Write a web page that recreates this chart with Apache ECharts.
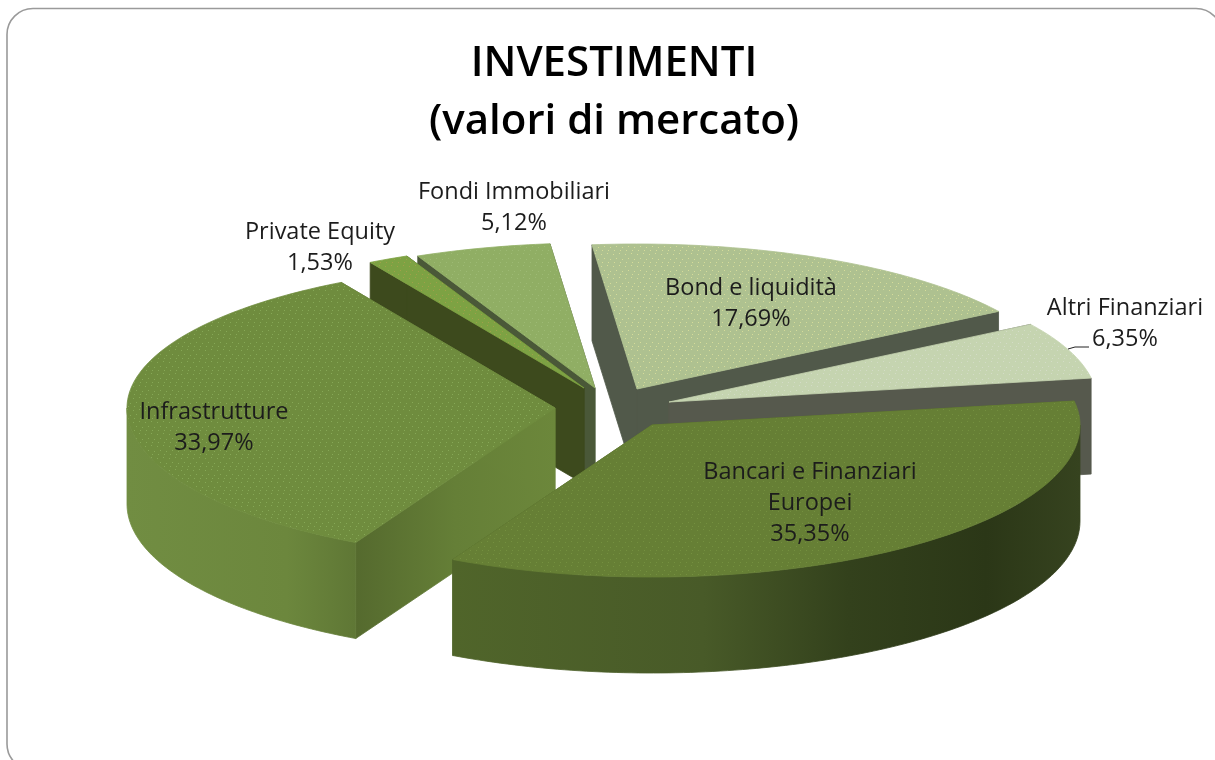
<!DOCTYPE html>
<html>
<head>
<meta charset="utf-8">
<style>html,body{margin:0;padding:0;background:#fff}#c{width:1215px;height:760px}</style>
<script src="https://cdn.jsdelivr.net/npm/echarts@6/dist/echarts.min.js"></script>
</head>
<body>
<div id="c"></div>
<script>
// ---- data ----
const categories = ['Bancari e Finanziari\nEuropei', 'Infrastrutture', 'Private Equity', 'Fondi Immobiliari', 'Bond e liquidità', 'Altri Finanziari'];
const shares = [35.35, 33.97, 1.53, 5.12, 17.69, 6.35];
const titleText = 'INVESTIMENTI\n(valori di mercato)';

// ---- layout / style ----
const centre = [617, 408], rx = 428, ryFront = 152, ryBack = 145, depth = 96, startDeg = -9.5;
const explode = [[35, 17], [-62, 0], [-33, -20], [-22, -20], [20, -19], [52, -6]];
const labelAt = [[810, 503], [214, 428], [320, 248], [514, 208], [751, 304], [1125, 324]];
const drawOrder = [3, 2, 4, 5, 1, 0];
const topColor = ['#667f35', '#6f8c3e', '#7da243', '#90ae64', '#aec190', '#c5d4b0'];
const dotColor = ['#74903f', '#86a856', '#a0a04a', '#9dba74', '#d5dc9a', '#d3dcc6'];
const faceColor = ['#4f6428',
  {type:'linear',x:0,y:0,x2:1,y2:0,colorStops:[{offset:0,color:'#556a2e'},{offset:.5,color:'#657f37'},{offset:1,color:'#6c873b'}]},
  '#3d4a1d', '#4a5838', '#51594a', '#56594d'];
const wallColor = [
  {type:'linear',x:0,y:0,x2:1,y2:0,colorStops:[{offset:0,color:'#50652a'},{offset:.4,color:'#485a28'},{offset:.63,color:'#33411c'},{offset:.85,color:'#2b3717'},{offset:1,color:'#36431f'}]},
  {type:'linear',x:0,y:0,x2:1,y2:0,colorStops:[{offset:0,color:'#718d42'},{offset:.7,color:'#6c873d'},{offset:1,color:'#5f7735'}]},
  '#3d4a1d', '#4a5838', '#51594a', '#56594d'];
const leader = [[1068, 349], [1075, 347], [1089, 347]];

function texture(base, dot) {
  const c = document.createElement('canvas');
  c.width = c.height = 12;
  const g = c.getContext('2d');
  g.fillStyle = base; g.fillRect(0, 0, 12, 12);
  g.fillStyle = dot;
  [[1,2],[7,1],[4,6],[10,7],[2,10],[8,10]].forEach(p => g.fillRect(p[0], p[1], 1, 1));
  return {image: c, repeat: 'repeat'};
}
const topFill = topColor.map((b, i) => texture(b, dotColor[i]));

const total = shares.reduce((a, b) => a + b, 0);
const bounds = [];
shares.reduce((a, v) => { const b = a + v / total * 360; bounds.push([a, b]); return b; }, startDeg);
const rad = d => d * Math.PI / 180;

function arc(ax, ay, a, b, dy) {
  const pts = [], n = Math.max(2, Math.ceil(Math.abs(b - a)));
  for (let k = 0; k <= n; k++) {
    const t = rad(a + (b - a) * k / n), s = Math.sin(t);
    pts.push([ax + rx * Math.cos(t), ay + (s > 0 ? ryFront : ryBack) * s + dy]);
  }
  return pts;
}

function renderItem(params, api) {
  const i = api.value(1);
  const [a, b] = bounds[i];
  const ax = centre[0] + explode[i][0], ay = centre[1] + explode[i][1];
  const children = [];
  const poly = (points, fill, stroke) => children.push({
    type: 'polygon', shape: {points},
    style: {fill, stroke: stroke || fill, lineWidth: .8}
  });
  // cut faces
  [a, b].forEach(d => {
    const p = arc(ax, ay, d, d, 0)[0];
    poly([[ax, ay], p, [p[0], p[1] + depth], [ax, ay + depth]], faceColor[i]);
  });
  // outer wall: only the part turned to the viewer
  [[0, 180], [360, 540]].forEach(r => {
    const lo = Math.max(a, r[0]), hi = Math.min(b, r[1]);
    if (hi > lo) {
      const up = arc(ax, ay, lo, hi, 0), down = arc(ax, ay, lo, hi, depth).reverse();
      poly(up.concat(down), wallColor[i]);
    }
  });
  // top surface
  poly([[ax, ay]].concat(arc(ax, ay, a, b, 0)), topFill[i], topColor[i]);
  // label
  const pct = api.value(0).toFixed(2).replace('.', ',') + '%';
  children.push({
    type: 'text', z2: 50,
    style: {
      x: labelAt[i][0], y: labelAt[i][1], text: categories[i] + '\n' + pct,
      align: 'center', verticalAlign: 'middle',
      font: '23.5px "Open Sans", sans-serif', lineHeight: 31, fill: '#1c1c1c'
    }
  });
  return {type: 'group', children};
}

const chart = echarts.init(document.getElementById('c'), null, {renderer: 'canvas'});
chart.setOption({
  animation: false,
  backgroundColor: '#ffffff',
  title: {
    text: titleText, left: 609, top: 30, textAlign: 'center',
    textStyle: {fontFamily: '"Open Sans", sans-serif', fontWeight: 600, fontSize: 42, lineHeight: 58, color: '#000'}
  },
  graphic: [
    {type: 'rect', z: -1, shape: {x: 7, y: 8.5, width: 1215, height: 761.5, r: 26},
     style: {fill: '#fff', stroke: '#9a9a9a', lineWidth: 1.6}},
    {type: 'polyline', z: 40, shape: {points: leader}, style: {fill: null, stroke: '#222', lineWidth: 1}}
  ],
  series: [{
    type: 'custom', coordinateSystem: 'none', renderItem,
    data: drawOrder.map(i => [shares[i], i])
  }]
});
</script>
</body>
</html>
